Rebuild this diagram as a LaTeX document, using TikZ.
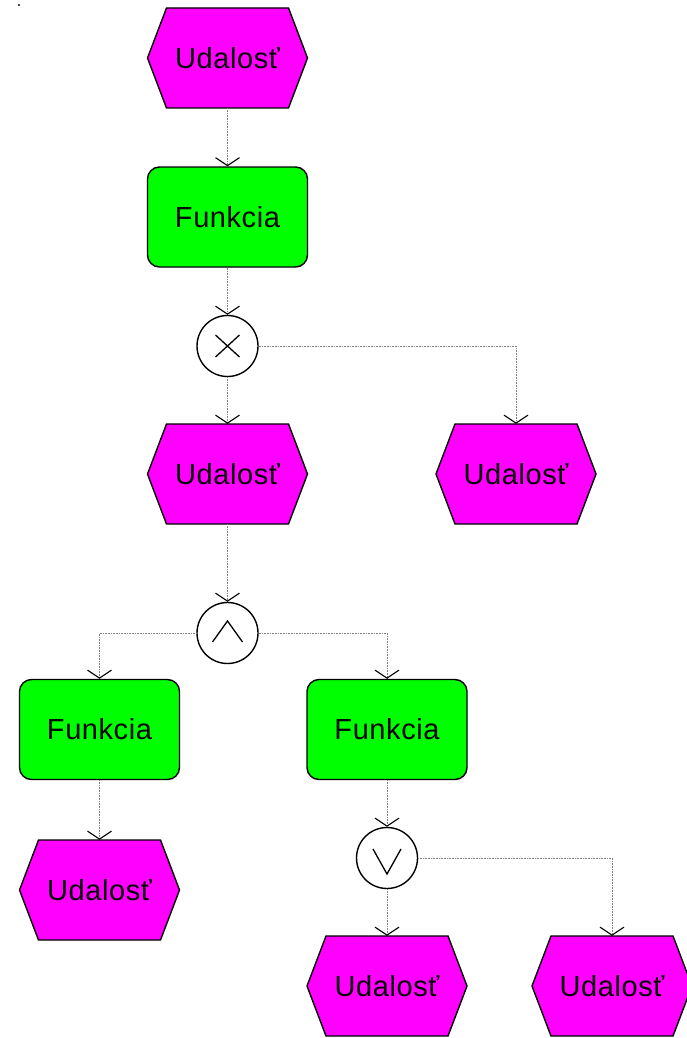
\documentclass[tikz,border=0pt]{standalone}
\usepackage{fontspec}
\setmainfont{Liberation Sans}[LetterSpace=2]
\usetikzlibrary{arrows.meta}
\definecolor{evcol}{HTML}{FF00FF}
\definecolor{fncol}{HTML}{00FF00}
\tikzset{
  lbl/.style={font=\fontsize{29}{34}\selectfont, text=black},
  evbox/.style={lbl, rectangle, minimum width=160, minimum height=100, inner sep=0pt},
  fnbox/.style={lbl, rectangle, rounded corners=12pt, draw=black, line width=1.4pt, fill=fncol, minimum width=160, minimum height=100, inner sep=0pt},
  gate/.style={circle, draw=black, line width=1.4pt, fill=white, minimum size=61pt, inner sep=0pt},
  sym/.style={draw=black, line width=1.3pt},
  arr/.style={draw=gray, densely dotted, line width=0.6pt, -{Straight Barb[color=black, length=8pt, width=24pt, line width=1.1pt]}},
}
\newcommand{\eventnode}[3]{%
  \filldraw[fill=evcol, draw=black, line width=1.4pt]
    (#2-80,#3) -- (#2-61,#3-50) -- (#2+61,#3-50) -- (#2+80,#3) -- (#2+61,#3+50) -- (#2-61,#3+50) -- cycle;
  \node[evbox] (#1) at (#2,#3) {Udalosť};
}
\begin{document}
\begin{tikzpicture}[x=1pt,y=-1pt]
\useasboundingbox (0,0) rectangle (687,1038);
\clip (0,0) rectangle (687,1038);
\fill[black!70] (18,4) rectangle (20,6);
\eventnode{e1}{227.5}{58}
\node[fnbox] (f1) at (227.5,217) {Funkcia};
\node[gate] (x1) at (227.5,346) {};
\draw[sym] ([shift={(-12,-11)}]x1.center) -- ([shift={(12,11)}]x1.center);
\draw[sym] ([shift={(-12,11)}]x1.center) -- ([shift={(12,-11)}]x1.center);
\eventnode{e2}{227.5}{474}
\eventnode{e3}{516}{474}
\node[gate] (a1) at (227.5,633) {};
\draw[sym] ([shift={(-15,9)}]a1.center) -- ([shift={(0,-12)}]a1.center) -- ([shift={(15,9)}]a1.center);
\node[fnbox] (f2) at (99.5,729.5) {Funkcia};
\node[fnbox] (f3) at (387,729.5) {Funkcia};
\eventnode{e4}{99.5}{890}
\node[gate] (o1) at (387,858) {};
\draw[sym] ([shift={(-14,-9)}]o1.center) -- ([shift={(0,16)}]o1.center) -- ([shift={(14,-9)}]o1.center);
\eventnode{e5}{387}{986}
\eventnode{e6}{612}{986}
\draw[arr] (e1.south) -- (f1.north);
\draw[arr] (f1.south) -- (x1.north);
\draw[arr] (x1.south) -- (e2.north);
\draw[arr] (x1.east) -| (e3.north);
\draw[arr] (e2.south) -- (a1.north);
\draw[arr] (a1.west) -| (f2.north);
\draw[arr] (a1.east) -| (f3.north);
\draw[arr] (f2.south) -- (e4.north);
\draw[arr] (f3.south) -- (o1.north);
\draw[arr] (o1.south) -- (e5.north);
\draw[arr] (o1.east) -| (e6.north);
\end{tikzpicture}
\end{document}
